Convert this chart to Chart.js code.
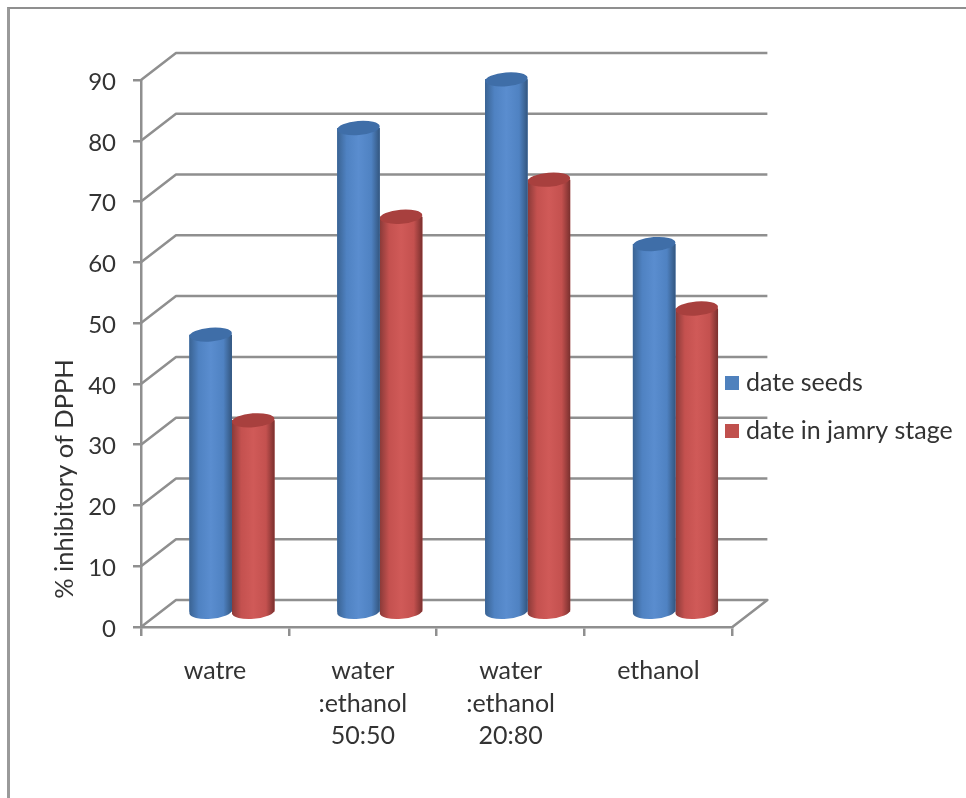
<!DOCTYPE html>
<html>
<head>
<meta charset="utf-8">
<style>
html,body{margin:0;padding:0;background:#fff;overflow:hidden}
#frame{position:absolute;left:7px;top:7px;width:966px;height:800px;border-left:3px solid #9a9a9a;border-top:2px solid #8f8f8f;box-sizing:border-box;pointer-events:none}
#wrap{position:absolute;left:0;top:0;width:966px;height:798px}
</style>
<script src="https://cdn.jsdelivr.net/npm/chart.js@4/dist/chart.umd.js"></script>
</head>
<body>
<div id="frame"></div>
<div id="wrap"><canvas id="c" width="966" height="798"></canvas></div>
<script>
const categories = [["watre"], ["water", ":ethanol", "50:50"], ["water", ":ethanol", "20:80"], ["ethanol"]];
const dateSeeds = [45.8, 79.8, 87.8, 60.7];
const dateJamry = [31.7, 65.2, 71.3, 50.1];
const seriesNames = ["date seeds", "date in jamry stage"];
const seriesColors = ["#4f81bd", "#c0504d"];
const yTitle = "% inhibitory of DPPH";

const FONT = "Lato, 'Open Sans', sans-serif";
const GRID = "#8f8f8f";
const TEXT = "#333333";
const DX = 35, DY = 27;          // depth of the 3D box
const MX = 17, MY = 14;          // bars stand in the middle of the depth
const shades = [
  {l:"#3a6393", m:"#4f82c2", c:"#5a8dcf", r:"#33567f", top:"#3f6ea8"},
  {l:"#8a3a38", m:"#c4514f", c:"#d05a58", r:"#7a302e", top:"#a8403e"}
];

function swatch(color) {
  const cv = document.createElement("canvas");
  cv.width = 14; cv.height = 14;
  const g = cv.getContext("2d");
  g.fillStyle = color;
  g.fillRect(0, 0, 14, 14);
  return cv;
}

const box3d = {
  id: "box3d",
  beforeDraw(chart) {
    const {ctx, scales:{x, y}} = chart;
    const L = x.left, R = x.right;
    ctx.save();
    ctx.strokeStyle = GRID; ctx.lineWidth = 2.5; ctx.lineJoin = "round";
    y.ticks.forEach(t => {
      const p = y.getPixelForValue(t.value);
      ctx.beginPath();
      ctx.moveTo(L, p); ctx.lineTo(L + DX, p - DY); ctx.lineTo(R + DX, p - DY);
      if (t.value === 0) { ctx.lineTo(R, p); }
      ctx.stroke();
    });
    ctx.restore();
    if (chart.legend) { chart.legend.left = 707.5; chart.legend.top = 48; chart.legend.bottom = 766; }
  },
  beforeDatasetsDraw(chart) {
    chart.ctx.save();
    chart.ctx.translate(MX, -MY);
  },
  afterDatasetDraw(chart, args) {
    const {ctx} = chart;
    const s = shades[args.index];
    chart.getDatasetMeta(args.index).data.forEach(el => {
      const w = el.width, x0 = el.x - w / 2, x1 = el.x + w / 2;
      const rx = w / 2, ry = 7, tilt = -0.08;
      const g = ctx.createLinearGradient(x0, 0, x1, 0);
      g.addColorStop(0, s.l); g.addColorStop(0.22, s.m); g.addColorStop(0.5, s.c);
      g.addColorStop(0.8, s.m); g.addColorStop(1, s.r);
      ctx.fillStyle = g;
      ctx.beginPath();
      ctx.moveTo(x0, el.y); ctx.lineTo(x1, el.y); ctx.lineTo(x1, el.base);
      ctx.ellipse(el.x, el.base, rx, ry, tilt, 0, Math.PI);
      ctx.closePath();
      ctx.fill();
      ctx.beginPath();
      ctx.ellipse(el.x, el.y, rx, ry, tilt, 0, Math.PI * 2);
      ctx.fillStyle = s.top;
      ctx.fill();
    });
  },
  afterDatasetsDraw(chart) {
    const {ctx} = chart;
    ctx.restore();
    ctx.save();
    ctx.translate(65, 479);
    ctx.rotate(-Math.PI / 2);
    ctx.font = "25.5px " + FONT;
    ctx.fillStyle = TEXT;
    ctx.textAlign = "center";
    ctx.textBaseline = "middle";
    ctx.fillText(yTitle, 0, 0);
    ctx.restore();
  }
};

new Chart(document.getElementById("c"), {
  type: "bar",
  data: {
    labels: categories,
    datasets: [
      {label: seriesNames[0], data: dateSeeds, backgroundColor: seriesColors[0], clip: false},
      {label: seriesNames[1], data: dateJamry, backgroundColor: seriesColors[1], clip: false}
    ]
  },
  plugins: [box3d],
  options: {
    responsive: false,
    animation: false,
    layout: {autoPadding: false, padding: {top: 80, left: 0, bottom: 0, right: -10.5}},
    datasets: {bar: {categoryPercentage: 0.576, barPercentage: 1}},
    plugins: {
      tooltip: {enabled: false},
      legend: {
        position: "right",
        labels: {
          color: TEXT, boxWidth: 14, boxHeight: 14, padding: 23,
          usePointStyle: true, pointStyleWidth: 3,
          generateLabels(chart) {
            return Chart.defaults.plugins.legend.labels.generateLabels(chart)
              .map((item, i) => Object.assign(item, {pointStyle: swatch(seriesColors[i])}));
          },
          font: {family: FONT, size: 25}
        }
      }
    },
    scales: {
      x: {
        afterFit(s) { s.height = 171; },
        grid: {offset: true, drawOnChartArea: false, color: GRID, lineWidth: 2.5, tickLength: 9},
        border: {color: GRID, width: 2.5},
        ticks: {color: TEXT, font: {family: FONT, size: 25, lineHeight: 1.3}, padding: 19, maxRotation: 0, autoSkip: false}
      },
      y: {
        min: 0, max: 90,
        afterFit(s) { s.width = 141; },
        grid: {drawOnChartArea: false, color: GRID, lineWidth: 2.5, tickLength: 8},
        border: {color: GRID, width: 2.5},
        ticks: {stepSize: 10, color: TEXT, font: {family: FONT, size: 24}, padding: 17, labelOffset: 2}
      }
    }
  }
});
</script>
</body>
</html>
